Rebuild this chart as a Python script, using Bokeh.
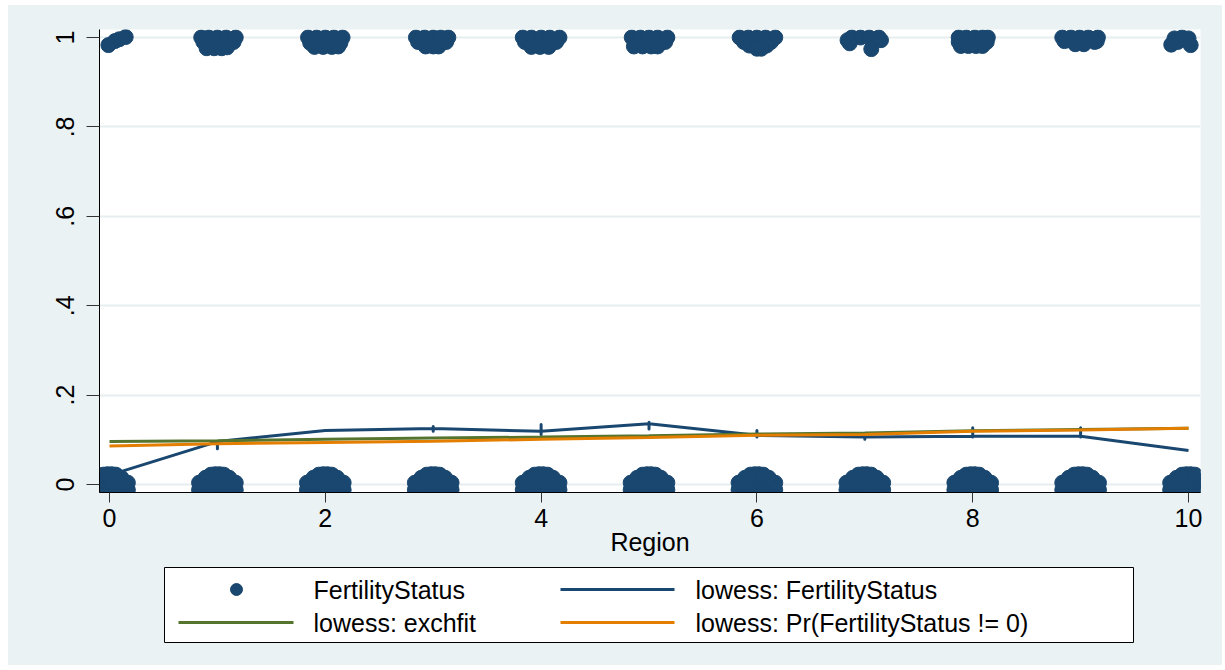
from bokeh.plotting import figure
from bokeh.models import Range1d, FixedTicker, CustomJSTickFormatter
from bokeh.layouts import column
from bokeh.embed import file_html
from bokeh.resources import INLINE
from bokeh.core.properties import value

# ---- data -------------------------------------------------------------
regions = [0, 1, 2, 3, 4, 5, 6, 7, 8, 9, 10]

# jitter offsets of the FertilityStatus == 0 observations (same in every region)
zero_dx = [-0.17, -0.12, -0.06, 0.00, 0.06, 0.12, 0.17,
           -0.17, -0.14, -0.09, -0.04, 0.02, 0.08, 0.13, 0.17,
           -0.11, -0.05, 0.00, 0.05, 0.11,
           -0.06, -0.02, 0.02, 0.06]
zero_dy = [-0.012, -0.012, -0.012, -0.012, -0.012, -0.012, -0.012,
           0.004, 0.006, 0.008, 0.008, 0.008, 0.008, 0.006, 0.004,
           0.015, 0.017, 0.017, 0.017, 0.015,
           0.022, 0.023, 0.023, 0.022]

# jitter offsets of the FertilityStatus == 1 observations, region by region
one_dx = [
    [-0.01, 0.05, 0.09, 0.15],
    [-0.15, -0.08, 0.00, 0.08, 0.17, -0.13, 0.15, -0.10, -0.03, 0.04, 0.09],
    [-0.16, -0.08, 0.00, 0.08, 0.16, -0.14, -0.05, 0.05, 0.14, -0.10, -0.02, 0.06, 0.12],
    [-0.16, -0.08, 0.00, 0.07, 0.14, -0.14, 0.12, -0.07, 0.00, 0.05],
    [-0.17, -0.09, 0.00, 0.08, 0.17, -0.15, 0.14, -0.09, -0.01, 0.07],
    [-0.16, -0.08, 0.00, 0.08, 0.17, -0.14, -0.06, 0.02, 0.08, 0.15],
    [-0.16, -0.08, 0.00, 0.08, 0.17, -0.12, 0.13, -0.07, 0.09, 0.00, 0.04],
    [-0.12, -0.04, 0.04, 0.13, -0.16, -0.14, 0.06, 0.15],
    [-0.13, -0.06, 0.02, 0.09, 0.14, -0.13, 0.13, -0.11, -0.04, 0.03, 0.09],
    [-0.17, -0.09, -0.01, 0.07, 0.16, -0.15, 0.15, -0.05, 0.03, 0.13],
    [-0.13, -0.06, 0.00, -0.16, 0.02, -0.10],
]
one_dy = [
    [-0.017, -0.008, -0.004, 0.001],
    [0.000, 0.000, 0.000, 0.000, 0.000, -0.010, -0.010, -0.024, -0.024, -0.024, -0.022],
    [0.000, 0.000, 0.000, 0.000, 0.000, -0.012, -0.012, -0.012, -0.012, -0.021, -0.021, -0.021, -0.020],
    [0.000, 0.000, 0.000, 0.000, 0.000, -0.010, -0.010, -0.020, -0.020, -0.020],
    [0.000, 0.000, 0.000, 0.000, 0.000, -0.010, -0.010, -0.021, -0.021, -0.021],
    [0.000, 0.000, 0.000, 0.000, 0.000, -0.020, -0.020, -0.020, -0.020, -0.010],
    [0.000, 0.000, 0.000, 0.000, 0.000, -0.010, -0.010, -0.018, -0.018, -0.025, -0.025],
    [0.000, 0.000, 0.000, 0.000, -0.006, -0.013, -0.026, -0.006],
    [0.000, 0.000, 0.000, 0.000, 0.000, -0.010, -0.010, -0.019, -0.019, -0.019, -0.019],
    [0.000, 0.000, 0.000, 0.000, 0.000, -0.008, -0.008, -0.015, -0.015, -0.010],
    [-0.002, 0.000, -0.002, -0.016, -0.017, -0.010],
]

# lowess: FertilityStatus (tied x values give short vertical runs)
lowess_fs_x = [0, 1, 1, 1, 2, 3, 3, 3, 3, 4, 4, 4, 4, 5, 5, 5, 5,
               6, 6, 6, 6, 7, 7, 7, 7, 8, 8, 8, 8, 9, 9, 9, 9, 10]
lowess_fs_y = [0.021, 0.096, 0.080, 0.096, 0.121,
               0.125, 0.119, 0.130, 0.125,
               0.119, 0.112, 0.134, 0.119,
               0.136, 0.124, 0.139, 0.136,
               0.110, 0.106, 0.121, 0.110,
               0.106, 0.101, 0.114, 0.106,
               0.108, 0.106, 0.127, 0.108,
               0.108, 0.106, 0.127, 0.108,
               0.076]

# lowess: exchfit
lowess_exch_y = [0.096, 0.098, 0.101, 0.104, 0.106, 0.109, 0.113, 0.115, 0.120, 0.123, 0.126]
# lowess: Pr(FertilityStatus != 0)
lowess_pr_y = [0.086, 0.091, 0.094, 0.097, 0.101, 0.105, 0.110, 0.112, 0.119, 0.122, 0.126]

x_ticks = [0, 2, 4, 6, 8, 10]
y_ticks = [0, 0.2, 0.4, 0.6, 0.8, 1]
y_tick_labels = ["0", ".2", ".4", ".6", ".8", "1"]

legend_labels = ["FertilityStatus", "lowess: FertilityStatus",
                 "lowess: exchfit", "lowess: Pr(FertilityStatus != 0)"]

# ---- style ------------------------------------------------------------
BG = "#eaf2f3"
NAVY = "#1a476f"
GREEN = "#55752f"
ORANGE = "#e37e00"
FONT = "Liberation Sans"

# ---- scatter points -----------------------------------------------------
pts_x, pts_y = [], []
for r, dxs, dys in zip(regions, one_dx, one_dy):
    for dx, dy in zip(dxs, dys):
        pts_x.append(r + dx)
        pts_y.append(1 + dy)
for r in regions:
    for dx, dy in zip(zero_dx, zero_dy):
        pts_x.append(r + dx)
        pts_y.append(0 + dy)

# ---- main plot ----------------------------------------------------------
p = figure(width=1214, height=557,
           x_range=Range1d(-0.0927, 10.111), y_range=Range1d(-0.0179, 1.0179),
           output_backend="svg", toolbar_location=None,
           min_border_left=91, min_border_right=22,
           min_border_top=24, min_border_bottom=70)
p.border_fill_color = BG
p.background_fill_color = "white"
p.outline_line_color = None

p.scatter(pts_x, pts_y, size=15, color=NAVY, line_color=NAVY)
p.line(lowess_fs_x, lowess_fs_y, line_color=NAVY, line_width=3, line_join="round")
p.line(regions, lowess_exch_y, line_color=GREEN, line_width=3)
p.line(regions, lowess_pr_y, line_color=ORANGE, line_width=3)

p.xgrid.visible = False
p.ygrid.grid_line_color = "#e6eef0"
p.ygrid.grid_line_width = 2

p.xaxis.ticker = FixedTicker(ticks=x_ticks)
p.yaxis.ticker = FixedTicker(ticks=y_ticks)
p.yaxis.formatter = CustomJSTickFormatter(
    args=dict(tick_values=y_ticks, tick_texts=y_tick_labels),
    code="const i = tick_values.findIndex(t => Math.abs(t - tick) < 1e-9);"
         " return i >= 0 ? tick_texts[i] : '';")
p.yaxis.major_label_orientation = "vertical"

for ax in (p.xaxis[0], p.yaxis[0]):
    ax.axis_line_color = "black"
    ax.axis_line_width = 1
    ax.major_tick_in = 0
    ax.minor_tick_in = 0
    ax.minor_tick_out = 0
    ax.major_tick_line_color = "#333333"
    ax.major_label_text_font = FONT
    ax.major_label_text_font_size = "25px"
    ax.major_label_text_color = "black"
    ax.axis_label_text_font = FONT
    ax.axis_label_text_font_size = "25px"
    ax.axis_label_text_font_style = "normal"
    ax.axis_label_text_color = "black"

p.yaxis.major_tick_out = 13
p.yaxis.major_label_standoff = 12
p.xaxis.major_tick_out = 10
p.xaxis.major_label_standoff = 6
p.xaxis.axis_label = "Region"
p.xaxis.axis_label_standoff = -2

# ---- legend (its frame lines up with the plot frame above) --------------
leg = figure(width=1214, height=103, x_range=Range1d(99, 1200), y_range=Range1d(0, 103),
             output_backend="svg", toolbar_location=None,
             min_border_left=91, min_border_right=22, min_border_top=0, min_border_bottom=0,
             x_axis_type=None, y_axis_type=None)
leg.outline_line_color = None
leg.background_fill_color = BG
leg.border_fill_color = BG
leg.grid.visible = False

row1, row2 = 76, 43
col1_glyph, col2_glyph = (178, 293), (560, 674)
col1_text, col2_text = 313, 695

leg.quad(left=[164], right=[1133], top=[98], bottom=[23],
         fill_color="white", line_color="black", line_width=1)
leg.scatter([236], [row1], size=12, color=NAVY)
leg.segment(x0=[col2_glyph[0], col1_glyph[0], col2_glyph[0]],
            y0=[row1, row2, row2],
            x1=[col2_glyph[1], col1_glyph[1], col2_glyph[1]],
            y1=[row1, row2, row2],
            line_color=[NAVY, GREEN, ORANGE], line_width=3)
leg.text(x=[col1_text, col2_text, col1_text, col2_text],
         y=[row1, row1, row2, row2],
         text=legend_labels,
         text_font=value(FONT), text_font_size="25px",
         text_baseline="middle", text_align="left", text_color="black")

layout = column(p, leg, spacing=0, margin=(5, 0, 0, 8),
                styles={"background-color": BG})

open("out.html", "w").write(file_html(layout, INLINE))
